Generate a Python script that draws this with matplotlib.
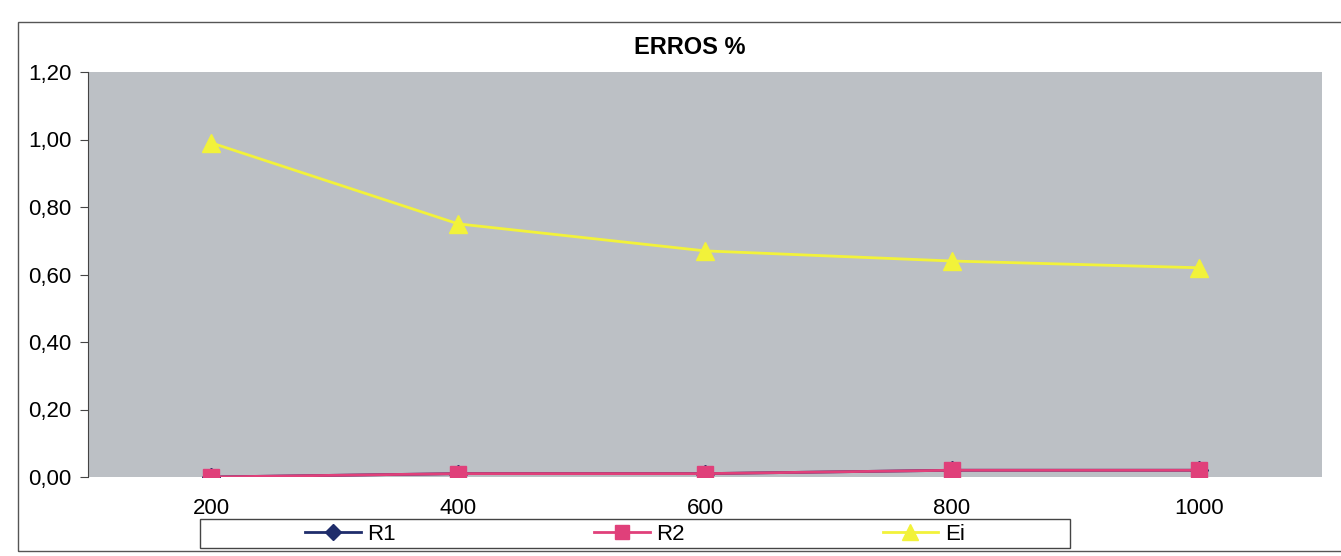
import matplotlib
matplotlib.use("Agg")
import matplotlib.pyplot as plt
from matplotlib.patches import Rectangle

categories = ["200", "400", "600", "800", "1000"]
r1 = [0.00, 0.01, 0.01, 0.02, 0.02]
r2 = [0.00, 0.01, 0.01, 0.02, 0.02]
ei = [0.99, 0.75, 0.67, 0.64, 0.62]
yticks = [0.0, 0.2, 0.4, 0.6, 0.8, 1.0, 1.2]

plt.rcParams['font.family'] = ['Liberation Sans', 'DejaVu Sans']

W, H = 1341, 556
fig = plt.figure(figsize=(W / 100, H / 100), dpi=100)
fig.patch.set_facecolor("white")

# chart area border
fig.patches.append(Rectangle((18 / W, 1 - 551 / H), 1.2, (551 - 22) / H,
                             transform=fig.transFigure, fill=False,
                             edgecolor="#555555", linewidth=1.0))

ax = fig.add_axes([88 / W, 1 - 477 / H, (1322 - 88) / W, (477 - 72) / H])
ax.set_facecolor("#bcc0c5")
x = list(range(len(categories)))

ax.plot(x, r1, color="#1f2d6b", marker="D", markersize=9, linewidth=2, label="R1", zorder=3)
ax.plot(x, r2, color="#e0407a", marker="s", markersize=12, linewidth=2, label="R2", zorder=4)
ax.plot(x, ei, color="#f2f23a", marker="^", markersize=13, linewidth=2, label="Ei", zorder=5)

ax.set_xlim(-0.5, len(categories) - 0.5)
ax.set_ylim(0, 1.2)
ax.set_yticks(yticks)
ax.set_yticklabels([f"{v:.2f}".replace(".", ",") for v in yticks], fontsize=16)
ax.set_xticks(x)
ax.set_xticklabels(categories, fontsize=16)
ax.tick_params(axis="x", length=0, pad=15)
ax.tick_params(axis="y", length=6, color="#444444", pad=6, direction="out")
for s in ["top", "right", "bottom"]:
    ax.spines[s].set_visible(False)
ax.spines["left"].set_color("#444444")

fig.text(690 / W, 1 - 48 / H, "ERROS %", ha="center", va="center",
         fontsize=17, fontweight="bold")

# legend box
fig.patches.append(Rectangle((200 / W, 1 - 548 / H), (1070 - 200) / W, (548 - 519) / H,
                             transform=fig.transFigure, fill=False,
                             edgecolor="#444444", linewidth=1.0))
handles, labels = ax.get_legend_handles_labels()
fig.legend(handles, labels, loc="center", bbox_to_anchor=(635 / W, 1 - 534 / H),
           ncol=3, frameon=False, fontsize=16, handlelength=2.5,
           handletextpad=0.3, columnspacing=8.9, borderpad=0.1, markerscale=0.85)

fig.savefig("out.png", dpi=100)
